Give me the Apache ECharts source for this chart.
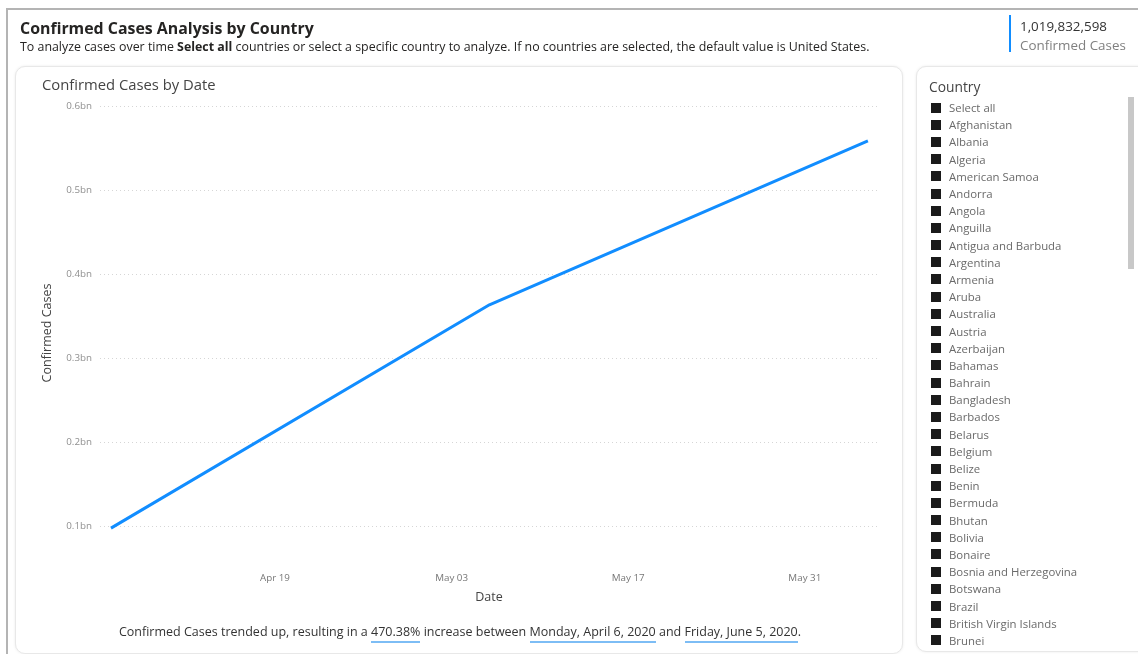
<!DOCTYPE html>
<html>
<head>
<meta charset="utf-8">
<script src="https://cdn.jsdelivr.net/npm/echarts@6/dist/echarts.min.js"></script>
<style>
  html, body { margin: 0; padding: 0; background: #fff; }
  body { width: 1138px; height: 654px; position: relative; overflow: hidden; font-family: "Open Sans", "Noto Sans", sans-serif; }
  .frame { position: absolute; left: 6px; top: 8px; right: -10px; bottom: -10px; border-left: 2px solid #b4b4b4; border-top: 2px solid #b4b4b4; }
  .card { position: absolute; background: #fff; border: 1px solid #e8e8e8; border-radius: 10px; box-shadow: 0 0 3px rgba(0,0,0,0.08); }
  #chartCard { left: 15px; top: 66px; width: 886px; height: 586px; }
  #slicerCard { left: 916px; top: 66px; width: 240px; height: 584px; }
  #chart { position: absolute; left: 0; top: 0; width: 1138px; height: 654px; z-index: 1; }
  .txt { position: absolute; z-index: 2; white-space: nowrap; }
  #title { left: 20px; top: 17px; font-size: 15.9px; font-weight: 700; color: #252423; }
  #subtitle { left: 20px; top: 38px; font-size: 12.4px; color: #252423; }
  #subtitle b { font-weight: 700; }
  #kpiBar { position: absolute; left: 1009px; top: 15px; width: 2px; height: 37px; background: #118DFF; z-index: 2; }
  #kpiValue { left: 1020px; top: 17px; font-size: 13.4px; color: #333; }
  #kpiLabel { left: 1020px; top: 36px; font-size: 13.4px; color: #808080; }
  #chartTitle { left: 42px; top: 74px; font-size: 14.8px; color: #444; }
  #narrative { left: 0; width: 920px; text-align: center; top: 623px; font-size: 12.5px; color: #333; }
  #narrative span { border-bottom: 2px solid #7dbdf5; padding-bottom: 1px; }
  #slicerHead { left: 929px; top: 77px; font-size: 13.8px; color: #444; }
  #slicerList { position: absolute; left: 15px; top: 33px; }
  .item { height: 17.2px; display: flex; align-items: center; font-size: 11.4px; color: #6a6a6a; white-space: nowrap; }
  .box { width: 10px; height: 10px; background: #1a1a1a; margin-right: 8px; flex: none; }
  #scroll { position: absolute; left: 1128px; top: 97px; width: 6px; height: 172px; background: #c8c8c8; z-index: 2; }
  #slicerClip { position: absolute; left: 916px; top: 66px; width: 240px; height: 583px; overflow: hidden; z-index: 2; }
</style>
</head>
<body>
<div class="frame"></div>
<div class="card" id="chartCard"></div>
<div class="card" id="slicerCard"></div>
<div id="chart"></div>

<div class="txt" id="title">Confirmed Cases Analysis by Country</div>
<div class="txt" id="subtitle">To analyze cases over time <b>Select all</b> countries or select a specific country to analyze. If no countries are selected, the default value is United States.</div>
<div id="kpiBar"></div>
<div class="txt" id="kpiValue"></div>
<div class="txt" id="kpiLabel">Confirmed Cases</div>
<div class="txt" id="chartTitle">Confirmed Cases by Date</div>
<div class="txt" id="narrative"></div>
<div class="txt" id="slicerHead">Country</div>
<div id="slicerClip"><div id="slicerList"></div></div>
<div id="scroll"></div>

<script>
// Confirmed cases per reporting date
const dates = ['2020-04-06', '2020-05-06', '2020-06-05'];
const confirmedCases = [97900000, 363530578, 558402020];

// Axis tick labels
const dateTicks = ['2020-04-19', '2020-05-03', '2020-05-17', '2020-05-31'];
const caseTicks = [100000000, 200000000, 300000000, 400000000, 500000000, 600000000];

// Slicer entries
const countries = ['Select all', 'Afghanistan', 'Albania', 'Algeria', 'American Samoa', 'Andorra', 'Angola',
  'Anguilla', 'Antigua and Barbuda', 'Argentina', 'Armenia', 'Aruba', 'Australia', 'Austria', 'Azerbaijan',
  'Bahamas', 'Bahrain', 'Bangladesh', 'Barbados', 'Belarus', 'Belgium', 'Belize', 'Benin', 'Bermuda', 'Bhutan',
  'Bolivia', 'Bonaire', 'Bosnia and Herzegovina', 'Botswana', 'Brazil', 'British Virgin Islands', 'Brunei'];

const MONTHS = ['Jan', 'Feb', 'Mar', 'Apr', 'May', 'Jun', 'Jul', 'Aug', 'Sep', 'Oct', 'Nov', 'Dec'];
const DAYS = ['Sunday', 'Monday', 'Tuesday', 'Wednesday', 'Thursday', 'Friday', 'Saturday'];
const MONTHS_LONG = ['January', 'February', 'March', 'April', 'May', 'June', 'July', 'August', 'September', 'October', 'November', 'December'];
const DAY_MS = 86400000;

function toTime(s) {
  const [y, m, d] = s.split('-').map(Number);
  return Date.UTC(y, m - 1, d);
}
function shortDate(t) {
  const d = new Date(t);
  return MONTHS[d.getUTCMonth()] + ' ' + String(d.getUTCDate()).padStart(2, '0');
}
function longDate(t) {
  const d = new Date(t);
  return DAYS[d.getUTCDay()] + ', ' + MONTHS_LONG[d.getUTCMonth()] + ' ' + d.getUTCDate() + ', ' + d.getUTCFullYear();
}

const times = dates.map(toTime);
const seriesData = times.map((t, i) => [t, confirmedCases[i]]);

// Header KPI and narrative text
const total = confirmedCases.reduce((a, b) => a + b, 0);
document.getElementById('kpiValue').textContent = total.toLocaleString('en-US');
const first = confirmedCases[0], last = confirmedCases[confirmedCases.length - 1];
const pct = ((last - first) / first * 100).toFixed(2) + '%';
document.getElementById('narrative').innerHTML =
  'Confirmed Cases trended up, resulting in a <span>' + pct + '</span> increase between <span>' +
  longDate(times[0]) + '</span> and <span>' + longDate(times[times.length - 1]) + '</span>.';

// Slicer list
const list = document.getElementById('slicerList');
countries.forEach(c => {
  const row = document.createElement('div');
  row.className = 'item';
  row.innerHTML = '<div class="box"></div><div>' + c + '</div>';
  list.appendChild(row);
});

// Date axis is a numeric axis over UTC timestamps
const chart = echarts.init(document.getElementById('chart'), null, { renderer: 'canvas' });
chart.setOption({
  animation: false,
  grid: { left: 100, right: 260, top: 106, bottom: 94, containLabel: false },
  xAxis: {
    type: 'value',
    min: times[0] - 0.87 * DAY_MS,
    max: times[times.length - 1] + 0.8 * DAY_MS,
    name: 'Date',
    nameLocation: 'middle',
    nameGap: 31,
    nameTextStyle: { fontFamily: 'Open Sans', fontSize: 12.5, color: '#444' },
    axisLine: { show: false },
    axisTick: { show: false, customValues: dateTicks.map(toTime) },
    splitLine: { show: false },
    axisLabel: {
      customValues: dateTicks.map(toTime),
      formatter: v => shortDate(v),
      fontFamily: 'Open Sans', fontSize: 9.8, color: '#777', margin: 13
    }
  },
  yAxis: {
    type: 'value',
    min: 60000000,
    max: 600000000,
    name: 'Confirmed Cases',
    nameLocation: 'middle',
    nameGap: 46,
    nameTextStyle: { fontFamily: 'Open Sans', fontSize: 12.5, color: '#444' },
    axisLine: { show: false },
    axisTick: { show: false, customValues: caseTicks },
    axisLabel: {
      customValues: caseTicks,
      formatter: v => (v / 1e9).toFixed(1) + 'bn',
      fontFamily: 'Open Sans', fontSize: 9.8, color: '#8f8f8f', margin: 8
    },
    splitLine: { show: true, lineStyle: { color: '#d6d6d6', type: [1, 3], width: 1 } }
  },
  series: [{
    type: 'line',
    data: seriesData,
    showSymbol: false,
    clip: false,
    lineStyle: { color: '#118DFF', width: 3 },
    itemStyle: { color: '#118DFF' }
  }]
});
</script>
</body>
</html>
